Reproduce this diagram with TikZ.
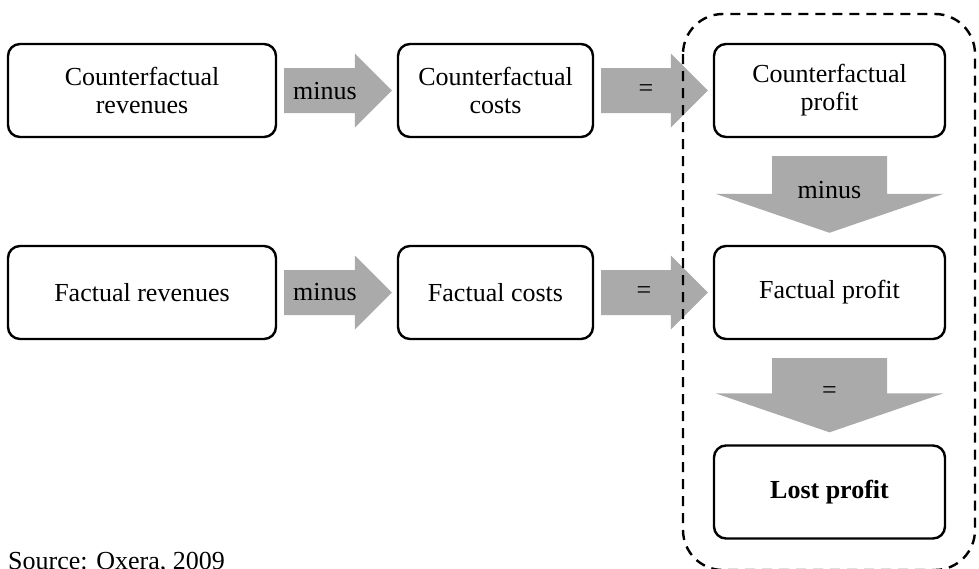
\documentclass[tikz,border=0pt]{standalone}
\usepackage{fontspec}
\setmainfont{Liberation Serif}
\usetikzlibrary{calc}
\definecolor{arrowgray}{RGB}{170,170,170}
\tikzset{
 box/.style={draw, line width=2.4pt, rounded corners=12pt, minimum height=93pt, align=center, inner sep=0pt, font=\fontsize{26}{28}\selectfont},
 garrow/.style={fill=arrowgray},
 lbl/.style={font=\fontsize{26}{28}\selectfont, inner sep=0pt},
 frame/.style={draw, line width=2.4pt, dash pattern=on 10pt off 7pt, rounded corners=40pt}
}
\newcommand\harrow[2]{\fill[garrow] let \p1=(#1.east), \p2=(#2.west) in
 (\x1+7pt,\y1+22.5pt) -- (\x2-42pt,\y1+22.5pt) -- (\x2-42pt,\y1+37pt) -- (\x2-5pt,\y1)
 -- (\x2-42pt,\y1-37pt) -- (\x2-42pt,\y1-22.5pt) -- (\x1+7pt,\y1-22.5pt) -- cycle;}
\newcommand\varrow[2]{\fill[garrow] let \p1=(#1.south), \p2=(#2.north) in
 (\x1-57.5pt,\y1-18pt) -- (\x1+57.5pt,\y1-18pt) -- (\x1+57.5pt,\y2+51pt) -- (\x1+114pt,\y2+51pt)
 -- (\x1,\y2+12pt) -- (\x1-114pt,\y2+51pt) -- (\x1-57.5pt,\y2+51pt) -- cycle;}
\begin{document}
\begin{tikzpicture}[x=1pt,y=-1pt]
\useasboundingbox (0,0) rectangle (979,568);
\node[box, minimum width=268pt] (cr) at (142,90.5) {Counterfactual\\revenues};
\node[box, minimum width=195pt] (cc) at (495.5,90.5) {Counterfactual\\costs};
\node[box, minimum width=231pt] (cp) at (829.5,90.5) {Counterfactual\\profit};
\node[box, minimum width=268pt] (fr) at (142,292.5) {Factual revenues};
\node[box, minimum width=195pt] (fc) at (495.5,292.5) {Factual costs};
\node[box, minimum width=231pt] (fp) at (829.5,292.5) {Factual profit};
\node[box, minimum width=231pt] (lp) at (829.5,492) {\textbf{Lost profit}};
\harrow{cr}{cc}
\harrow{cc}{cp}
\harrow{fr}{fc}
\harrow{fc}{fp}
\varrow{cp}{fp}
\varrow{fp}{lp}
\node[lbl] (l1) at (325,91) {minus};
\node[lbl] (l2) at (646,91) {=};
\node[lbl] (l3) at (325,292.5) {minus};
\node[lbl] (l4) at (644,292.5) {=};
\node[lbl] (l5) at (829.5,190) {minus};
\node[lbl] (l6) at (829.5,393) {=};
\draw[frame] (683,14) rectangle (975,570);
\node[lbl, anchor=base west] (src) at (8,569) {Source: Oxera, 2009};
\end{tikzpicture}
\end{document}
